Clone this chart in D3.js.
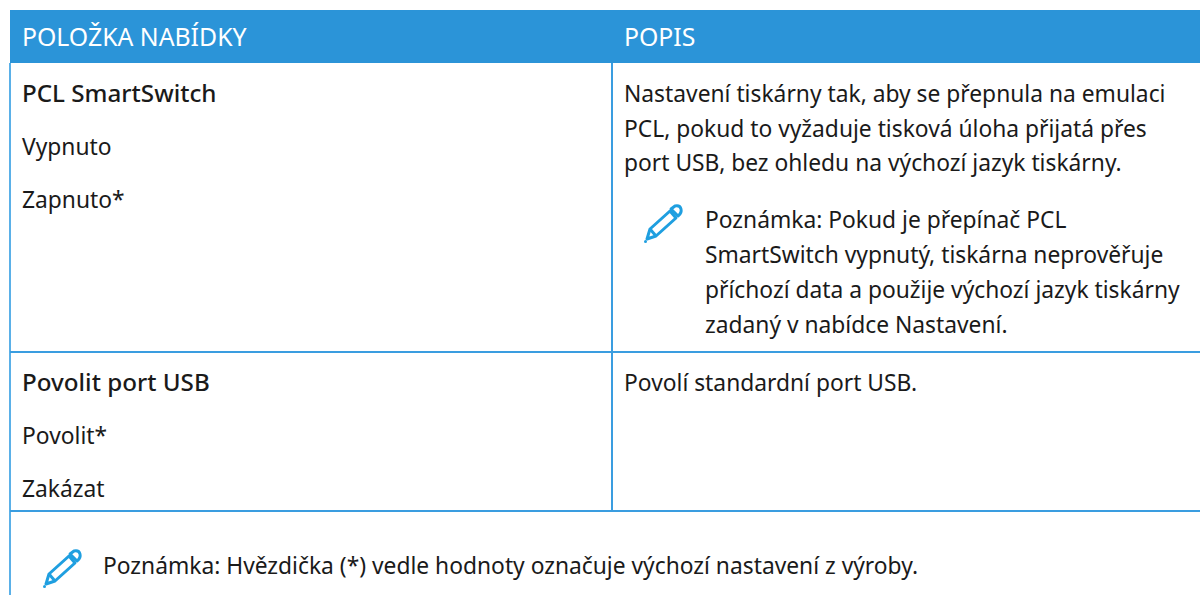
<!DOCTYPE html>
<html>
<head>
<meta charset="utf-8">
<script src="https://cdnjs.cloudflare.com/ajax/libs/d3/7.8.5/d3.min.js"></script>
<style>
  html, body { margin: 0; padding: 0; background: #fff; overflow: hidden; }
  text { font-family: "Noto Sans", sans-serif; }
</style>
</head>
<body>
<div id="container"></div>
<script>
/* Table content */
const headers = ["POLOŽKA NABÍDKY", "POPIS"]
const items = [
  ["PCL SmartSwitch", "Vypnuto", "Zapnuto*"],
  ["Povolit port USB", "Povolit*", "Zakázat"]
]
const descriptions = [
  ["Nastavení tiskárny tak, aby se přepnula na emulaci",
   "PCL, pokud to vyžaduje tisková úloha přijatá přes",
   "port USB, bez ohledu na výchozí jazyk tiskárny."],
  ["Povolí standardní port USB."]
]
const rowNote = ["Poznámka: Pokud je přepínač PCL",
  "SmartSwitch vypnutý, tiskárna neprověřuje",
  "příchozí data a použije výchozí jazyk tiskárny",
  "zadaný v nabídce Nastavení."]
const footNote = "Poznámka: Hvězdička (*) vedle hodnoty označuje výchozí nastavení z výroby."

/* Define global constants */
const width = 1200
const height = 595
const HEADERBLUE = "#2b94d8"
const LINEBLUE = "#3a9de0"
const EDGEBLUE = "#5ab0e8"
const ICONBLUE = "#1f9fe0"
const TEXTCOLOR = "#1a1a1a"
const FONTSIZE = 22.8
const STRONGSIZE = 24.2
const HEADERSIZE = 24.8

const svg = d3.select("#container").append("svg")
  .attr("width", width).attr("height", height)
  .style("display", "block")

/* Columns and rows are bands on the page */
const xCol = d3.scaleOrdinal().domain([0, 1]).range([10, 612])
const rowTop = d3.scaleOrdinal().domain([0, 1, 2]).range([63, 352, 511])
const TEXTPAD = 12

const addLines = (lines, x, y0, step, strong) => {
  svg.append("g").selectAll("text")
    .data(lines)
    .enter()
    .append("text")
    .attr("x", x)
    .attr("y", (d, i) => y0 + i * step)
    .attr("font-size", (d, i) => (strong && i === 0) ? STRONGSIZE : FONTSIZE)
    .attr("fill", TEXTCOLOR)
    .attr("font-weight", (d, i) => (strong && i === 0) ? 500 : 400)
    .text((d) => d)
}

/* Pencil icon, drawn in a 40x40 box */
const addPencil = (x, y) => {
  const g = svg.append("g")
    .attr("transform", "translate(" + x + "," + y + ")")
    .attr("fill", "none")
    .attr("stroke", ICONBLUE)
    .attr("stroke-width", 3)
    .attr("stroke-linejoin", "round")
  g.append("path").attr("d", "M6 25 L26 7 L32 14 L12 32 L3 35 Z")
  g.append("path").attr("d", "M6 25 L12 32")
  g.append("path").attr("d", "M27 5 L31 2 Q36 1 37 5 Q38 9 34 12 Z")
  g.append("circle").attr("cx", 1.5).attr("cy", 37.5).attr("r", 1.5).attr("fill", ICONBLUE).attr("stroke", "none")
}

/* Header band */
svg.append("rect")
  .attr("x", 10).attr("y", 10)
  .attr("width", width - 10).attr("height", 53)
  .attr("fill", HEADERBLUE)
svg.append("g").selectAll("text")
  .data(headers)
  .enter()
  .append("text")
  .attr("x", (d, i) => xCol(i) + TEXTPAD)
  .attr("y", 46)
  .attr("font-size", HEADERSIZE)
  .attr("fill", "#fff")
  .text((d) => d)

/* Grid lines */
svg.append("line").attr("x1", 10).attr("x2", 10).attr("y1", 63).attr("y2", height)
  .attr("stroke", EDGEBLUE).attr("stroke-width", 2)
svg.append("line").attr("x1", 612).attr("x2", 612).attr("y1", 63).attr("y2", rowTop(2))
  .attr("stroke", LINEBLUE).attr("stroke-width", 2)
svg.selectAll(".rowline")
  .data([1, 2])
  .enter()
  .append("line")
  .attr("class", "rowline")
  .attr("x1", 10).attr("x2", width)
  .attr("y1", (d) => rowTop(d)).attr("y2", (d) => rowTop(d))
  .attr("stroke", LINEBLUE).attr("stroke-width", 2)

/* Cell text */
items.forEach((lines, i) => addLines(lines, xCol(0) + TEXTPAD, rowTop(i) + 39, 52.8, true))
descriptions.forEach((lines, i) => addLines(lines, xCol(1) + TEXTPAD, rowTop(i) + 39, 34.5, false))
addLines(rowNote, 705, 228, 35, false)
addPencil(644, 204)

/* Note under the table */
addLines([footNote], 103, 574, 0, false)
addPencil(43, 549)
</script>
</body>
</html>
